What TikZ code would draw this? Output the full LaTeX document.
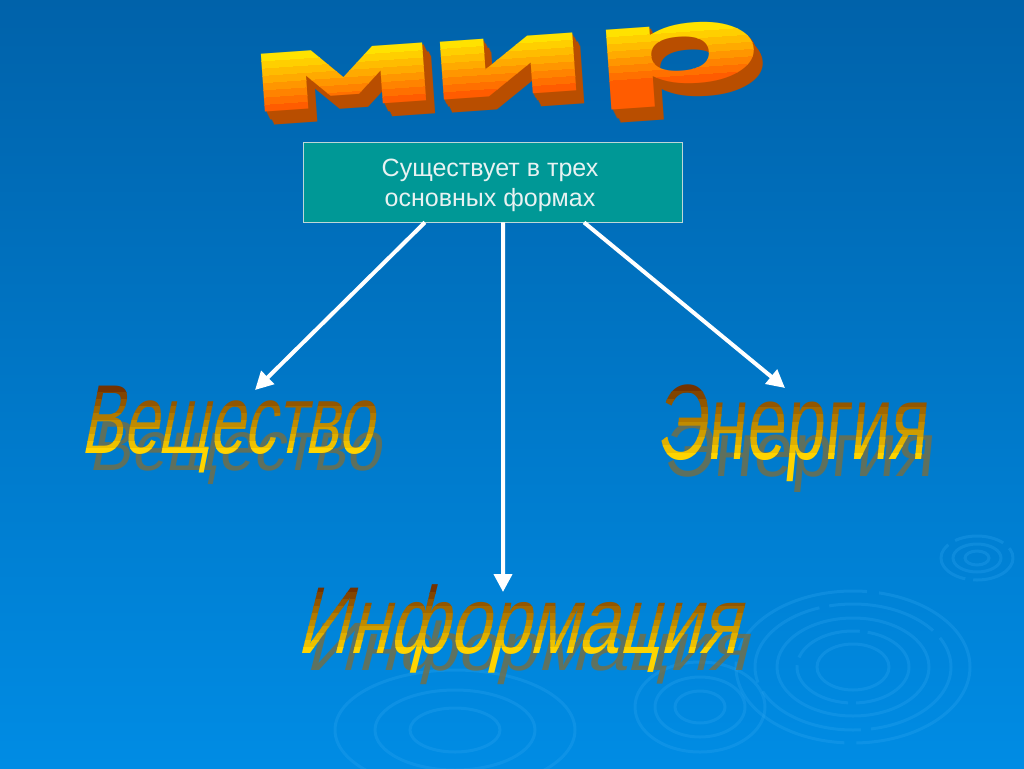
\documentclass[tikz,border=0pt]{standalone}
\usepackage{graphicx}
\usepackage{fontspec}
\setmainfont{Liberation Sans}
\newfontfamily\heavyfont{DejaVu Sans}
\usetikzlibrary{arrows.meta,calc}

\definecolor{bgtop}{RGB}{0,98,170}
\definecolor{bgbot}{RGB}{0,140,228}
\definecolor{boxteal}{RGB}{0,152,150}
\definecolor{boxline}{RGB}{190,215,215}
\definecolor{boxtext}{RGB}{232,242,242}
\definecolor{goldtop}{RGB}{115,50,0}
\definecolor{goldbot}{RGB}{255,212,0}
\definecolor{shadowc}{RGB}{118,110,66}
\definecolor{mirtop}{RGB}{255,226,0}
\definecolor{mirbot}{RGB}{255,92,0}
\definecolor{mirside}{RGB}{185,78,0}
\definecolor{ripplec}{RGB}{45,165,240}

\newcommand\mirtext{\heavyfont\bfseries\fontsize{106}{106}\selectfont\scalebox{2.35}[1]{м\kern-0.10em и\kern-0.03em р}}
\newcommand\veshtext{\fontsize{98}{98}\selectfont\scalebox{0.645}[1]{Вещество}}
\newcommand\enertext{\fontsize{107}{107}\selectfont\scalebox{0.655}[1]{Энергия}}
\newcommand\infotext{\fontsize{95}{95}\selectfont\scalebox{0.76}[1]{Информация}}

\tikzset{
  ripple/.style={draw=ripplec, line width=3pt, opacity=0.3},
  boxstyle/.style={draw=boxline, line width=0.8pt, fill=boxteal, minimum width=379pt, minimum height=80pt, inner sep=0pt},
  boxlabel/.style={text=boxtext, align=center, font=\fontsize{25}{30}\selectfont},
  whitearrow/.style={draw=white, line width=4pt, -{Triangle[length=18pt,width=18pt]}},
  shadowword/.style={text=shadowc, opacity=0.8, inner sep=0pt, transform shape},
  goldface/.style={inner sep=0pt, transform shape},
  extrude/.style={text=mirside, inner sep=0pt, transform shape},
}

% #1 cx, #2 cy, #3 xslant, #4 cap top, #5 baseline, #6 bottom, #7 content, #8 name prefix
\newcommand\goldword[8]{%
  \foreach \i in {0,...,9} {
    \pgfmathtruncatemacro\p{100*\i/9}
    \pgfmathsetmacro\ya{\i==0 ? #4-20 : #4+(#5-#4)*\i/10}
    \pgfmathsetmacro\yb{\i==9 ? #6+15 : #4+(#5-#4)*(\i+1)/10+0.7}
    \begin{scope}
      \clip (#1-320,\ya) rectangle (#1+320,\yb);
      \node[goldface, text=goldbot!\p!goldtop, xslant=#3] (#8\i) at (#1,#2) {#7};
    \end{scope}
  }%
}

\begin{document}
\begin{tikzpicture}[x=1pt,y=-1pt]
\useasboundingbox (0,0) rectangle (1024,768);
\fill[top color=bgtop, bottom color=bgbot] (0,0) rectangle (1024,768);

% ripples
\draw[ripple, dash pattern=on 150pt off 12pt] (853,667) ellipse [x radius=117, y radius=76];
\draw[ripple, dash pattern=on 110pt off 10pt] (853,667) ellipse [x radius=98, y radius=63];
\draw[ripple] (853,667) ellipse [x radius=76, y radius=49];
\draw[ripple, dash pattern=on 70pt off 8pt] (853,667) ellipse [x radius=56, y radius=36];
\draw[ripple] (853,667) ellipse [x radius=36, y radius=23];
\draw[ripple, dash pattern=on 50pt off 8pt] (977,558) ellipse [x radius=36, y radius=22];
\draw[ripple] (977,558) ellipse [x radius=24, y radius=14];
\draw[ripple] (977,558) ellipse [x radius=12, y radius=7];
\draw[ripple] (700,707) ellipse [x radius=65, y radius=45];
\draw[ripple] (700,707) ellipse [x radius=45, y radius=30];
\draw[ripple] (700,707) ellipse [x radius=25, y radius=16];
\draw[ripple] (455,730) ellipse [x radius=120, y radius=60];
\draw[ripple] (455,730) ellipse [x radius=80, y radius=40];
\draw[ripple] (455,730) ellipse [x radius=45, y radius=22];

% title
\begin{scope}[rotate around={4:(505,77)}]
  \foreach \k in {7,6,...,1} {
    \node[extrude] (mirx\k) at ({505+1.1*\k},{77+1.9*\k}) {\mirtext};
  }
  \foreach \i in {0,...,7} {
    \pgfmathtruncatemacro\p{100*\i/7}
    \pgfmathsetmacro\ya{\i==0 ? 0 : 37+58*\i/8}
    \pgfmathsetmacro\yb{\i==7 ? 140 : 37+58*(\i+1)/8+0.7}
    \begin{scope}
      \clip (200,\ya) rectangle (810,\yb);
      \node[goldface, text=mirbot!\p!mirtop] (mir\i) at (505,77) {\mirtext};
    \end{scope}
  }
\end{scope}

% box
\node[boxstyle] (box) at (492.5,182) {};
\node[boxlabel] (boxtxt) at (490,185) {Существует в трех\\ основных формах};

% words: shadows
\node[shadowword, xslant=0.2, yscale=0.72] (vesh) at (238,453) {\veshtext};
\node[shadowword, xslant=0.1, yscale=0.72] (ener) at (800,458) {\enertext};
\node[shadowword, xslant=0.25, yscale=0.72] (info) at (531,653) {\infotext};

% words: gold faces
\goldword{231}{430}{0.2}{385}{455}{477}{\veshtext}{veshf}
\goldword{794}{433}{0.1}{384}{461}{483}{\enertext}{enerf}
\goldword{524}{629}{0.25}{586}{654}{676}{\infotext}{infof}

% arrows
\coordinate (tipL) at (255,390);
\coordinate (tipM) at (503,592);
\coordinate (tipR) at (785,388);
\draw[whitearrow] ($(box.south west)!0.322!(box.south east)$) -- (tipL);
\draw[whitearrow] ($(box.south west)!0.528!(box.south east)$) -- (tipM);
\draw[whitearrow] ($(box.south west)!0.741!(box.south east)$) -- (tipR);
\end{tikzpicture}
\end{document}
